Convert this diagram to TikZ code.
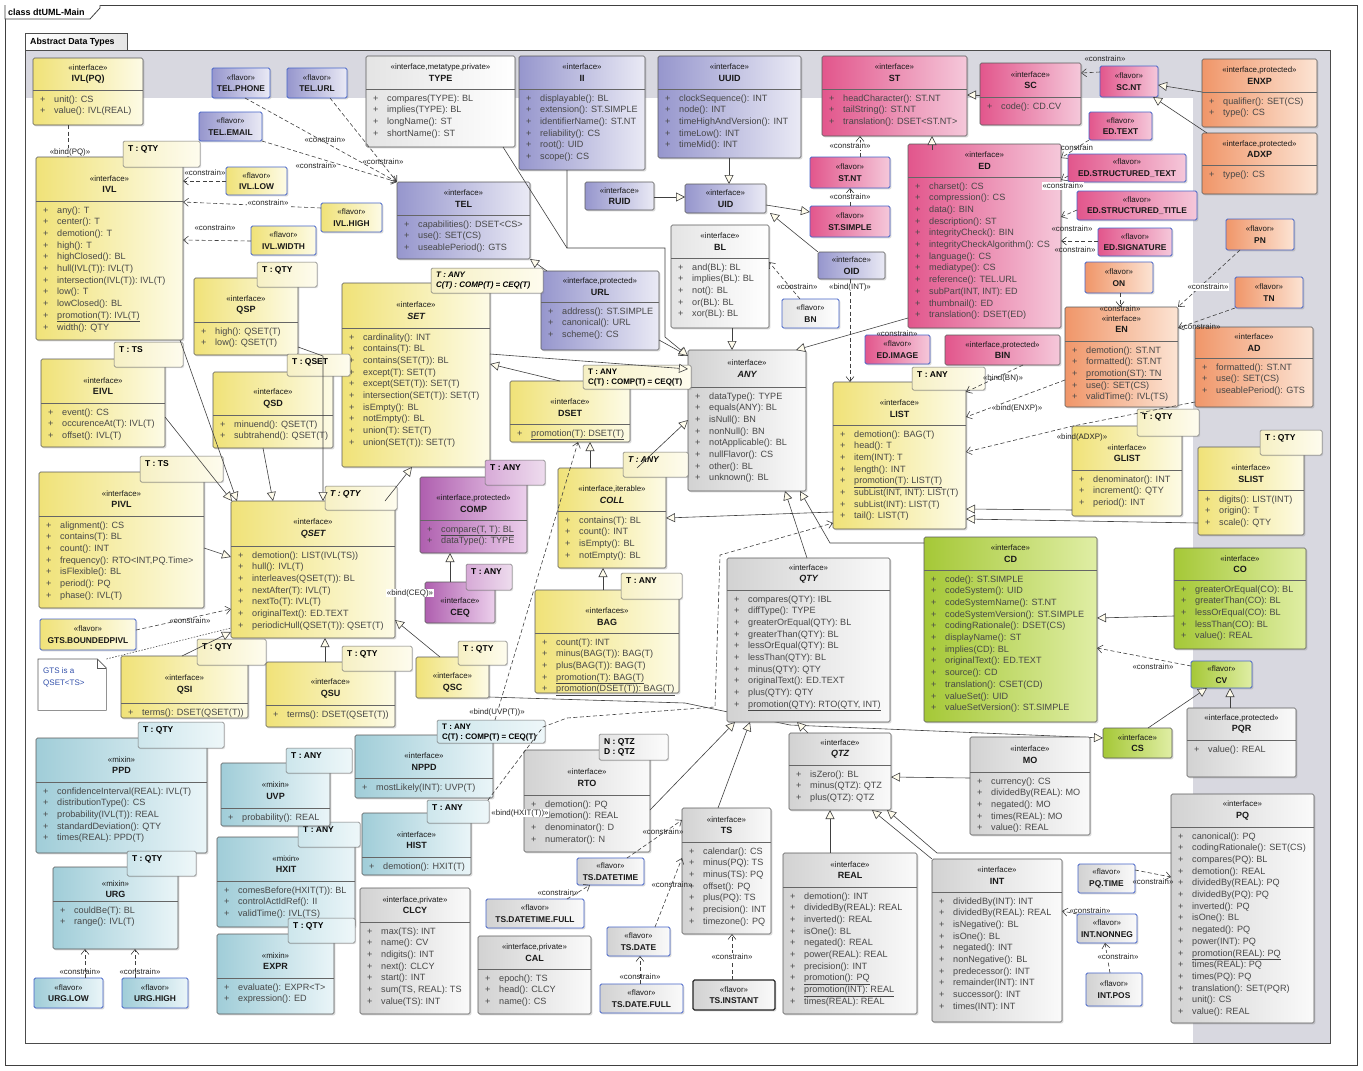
\documentclass[tikz,border=0pt]{standalone}
\usepackage{fontspec}
\setmainfont{Liberation Sans}
\usetikzlibrary{arrows.meta,shadows,calc}

\definecolor{yelA}{RGB}{240,226,120}\definecolor{yelB}{RGB}{253,251,230}
\definecolor{purA}{RGB}{150,150,205}\definecolor{purB}{RGB}{234,234,245}
\definecolor{pnkA}{RGB}{226,86,140}\definecolor{pnkB}{RGB}{245,200,218}
\definecolor{ornA}{RGB}{240,150,105}\definecolor{ornB}{RGB}{252,228,212}
\definecolor{grnA}{RGB}{165,200,55}\definecolor{grnB}{RGB}{224,238,165}
\definecolor{gryA}{RGB}{210,210,210}\definecolor{gryB}{RGB}{250,250,250}
\definecolor{cynA}{RGB}{160,205,216}\definecolor{cynB}{RGB}{234,245,248}
\definecolor{magA}{RGB}{175,95,175}\definecolor{magB}{RGB}{236,208,236}
\definecolor{whtA}{RGB}{228,228,228}\definecolor{whtB}{RGB}{255,255,255}
\definecolor{tyA}{RGB}{246,240,196}\definecolor{tyB}{RGB}{254,252,238}
\definecolor{tmA}{RGB}{215,170,215}\definecolor{tmB}{RGB}{238,220,238}
\definecolor{tcA}{RGB}{205,230,236}\definecolor{tcB}{RGB}{238,247,249}
\definecolor{tgA}{RGB}{226,226,226}\definecolor{tgB}{RGB}{252,252,252}
\definecolor{band}{RGB}{216,216,224}
\definecolor{flvB}{RGB}{70,100,200}
\definecolor{tri}{RGB}{255,252,236}
\definecolor{notec}{RGB}{50,80,170}

\tikzset{
  clsbox/.style={draw=black!65,line width=0.6pt,rounded corners=1.5pt,inner sep=0pt,outer sep=0pt,
    drop shadow={shadow xshift=1.4pt,shadow yshift=-1.4pt,opacity=0.25,fill=black!60}},
  flvbox/.style={clsbox,draw=flvB,line width=0.8pt},
  tplbox/.style={draw=black!55,line width=0.5pt,rounded corners=1.5pt,inner sep=0pt,outer sep=0pt,
    drop shadow={shadow xshift=1.2pt,shadow yshift=-1.2pt,opacity=0.2,fill=black!60}},
  yel/.style={left color=yelA,right color=yelB},
  pur/.style={left color=purA,right color=purB},
  pnk/.style={left color=pnkA,right color=pnkB},
  orn/.style={left color=ornA,right color=ornB},
  grn/.style={left color=grnA,right color=grnB},
  gry/.style={left color=gryA,right color=gryB},
  cyn/.style={left color=cynA,right color=cynB},
  mag/.style={left color=magA,right color=magB},
  wht/.style={left color=whtA,right color=whtB},
  tyel/.style={left color=tyA,right color=tyB},
  tmag/.style={left color=tmA,right color=tmB},
  tcyn/.style={left color=tcA,right color=tcB},
  tgry/.style={left color=tgA,right color=tgB},
  hdr/.style={align=center,inner sep=0pt,text=black!90,font=\fontsize{9}{11.5}\selectfont},
  attrn/.style={inner sep=0pt,text=black!72,font=\fontsize{9.1}{11.7}\selectfont},
  tpltext/.style={inner sep=0pt,align=left,text=black,font=\fontsize{8.5}{10.5}\selectfont\bfseries},
  sepl/.style={draw=black!60,line width=0.5pt},
  gen/.style={draw=black!75,line width=0.6pt,-{Triangle[length=9pt,width=9pt,fill=tri]}},
  dep/.style={draw=black!75,line width=0.6pt,dash pattern=on 4pt off 2.5pt,-{Straight Barb[length=5pt,width=8pt]}},
  lbl/.style={inner sep=0.8pt,font=\fontsize{7.9}{9}\selectfont,text=black!85},
  lblw/.style={lbl,fill=white},
}

\newcommand\stf{\fontsize{7.9}{11}\selectfont\mdseries}
\newcommand\nmf{\fontsize{9}{11}\selectfont\bfseries}
\newcommand\fnf{\fontsize{8.4}{11}\selectfont\bfseries}
\newcommand\attr[1]{\hbox{\makebox[14pt][l]{+}#1}}
\newcommand\uattr[1]{\hbox{\makebox[14pt][l]{+}\underline{#1}}}
\newcommand\hdy{0}
\newcommand\cls[9]{%
  \node[clsbox,#7,minimum width={#4-#2},minimum height={#5-#3},anchor=north west] (#1) at (#2,#3) {};%
  \node[hdr] (#1-h) at ({(#2+#4)/2},{(#3+#6)/2+\hdy}) {{\stf #8}\\{\nmf #9}};%
  \draw[sepl] (#1.west|-0,#6) -- (#1.east|-0,#6);%
  \gdef\hdy{0}}
\newcommand\clst{\gdef\hdy{5}\cls}
\newcommand\clsh[8]{%
  \node[clsbox,#6,minimum width={#4-#2},minimum height={#5-#3},anchor=north west] (#1) at (#2,#3) {};%
  \node[hdr] (#1-h) at ({(#2+#4)/2},{(#3+#5)/2+\hdy}) {{\stf #7}\\{\nmf #8}};%
  \gdef\hdy{0}}
\newcommand\clsht{\gdef\hdy{5}\clsh}
\newcommand\attrs[4]{\node[attrn,anchor=base west] (#1-a) at ({#2+7},{#3+12}) {\vtop{\baselineskip=11.7pt\lineskiplimit=-20pt\lineskip=0pt#4}};}
\newcommand\tpl[8]{%
  \node[tplbox,#6,minimum width={#4-#2},minimum height={#5-#3},anchor=north west] (#1) at (#2,#3) {};%
  \node[tpltext,#7,anchor=north west] (#1-t) at ({#2+5},{#3+4}) {#8};}
\newcommand\flv[7]{%
  \node[flvbox,#6,minimum width={#4-#2},minimum height={#5-#3},anchor=north west] (#1) at (#2,#3) {};%
  \node[hdr] (#1-h) at ({(#2+#4)/2},{(#3+#5)/2}) {{\stf «flavor»}\\{\fnf #7}};}

\begin{document}
\begin{tikzpicture}[x=1pt,y=-1pt]
\useasboundingbox (0,0) rectangle (1363,1071);
\fill[white] (0,0) rectangle (1363,1071);
% outer frame
\node[draw=black!75,line width=0.8pt,minimum width=1352,minimum height=1060,anchor=north west,inner sep=0pt] (frame) at (5,5) {};
\draw[black!75,line width=0.8pt,fill=white] (5,5) -- (5,19) -- (90,19) -- (100,8) -- (100,5);
\node[anchor=west,inner sep=0pt,font=\fontsize{9}{10}\selectfont\bfseries] (title) at (8,12) {class dtUML-Main};
% package
\fill[band] (25,50) rectangle (1330,1043);
\fill[white] (25,98) rectangle (1193,1043);
\node[draw=black!70,line width=0.6pt,minimum width=1305,minimum height=993,anchor=north west,inner sep=0pt] (pkg) at (25,50) {};
\node[draw=black!70,line width=0.6pt,left color=white,right color=black!10,minimum width=102,minimum height=17,anchor=north west,inner sep=0pt] (pkgtab) at (25,33) {};
\node[anchor=west,inner sep=0pt,font=\fontsize{8.8}{10}\selectfont\bfseries] (pkgname) at (30,42) {Abstract Data Types};

% bend points of the long connector that runs behind QTY
\coordinate (qa) at (685,703);
\coordinate (qb) at (790,725);

% ---------------- classes ----------------
\cls{IVLPQ}{33}{58}{143}{125}{90}{yel}{«interface»}{IVL(PQ)}
\attrs{IVLPQ}{33}{90}{\attr{unit(): CS}\attr{value(): IVL(REAL)}}

\clst{IVL}{36}{157}{183}{340}{201}{yel}{«interface»}{IVL}
\attrs{IVL}{36}{201}{\attr{any(): T}\attr{center(): T}\attr{demotion(): T}\attr{high(): T}\attr{highClosed(): BL}\attr{hull(IVL(T)): IVL(T)}\attr{intersection(IVL(T)): IVL(T)}\attr{low(): T}\attr{lowClosed(): BL}\uattr{promotion(T): IVL(T)}\attr{width(): QTY}}
\tpl{tIVL}{123}{141}{200}{167}{tyel}{}{T : QTY}

\cls{TYPE}{366}{56}{515}{147}{89}{wht}{«interface,metatype,private»}{TYPE}
\attrs{TYPE}{366}{89}{\attr{compares(TYPE): BL}\attr{implies(TYPE): BL}\attr{longName(): ST}\attr{shortName(): ST}}

\cls{II}{519}{56}{645}{170}{89}{pur}{«interface»}{II}
\attrs{II}{519}{89}{\attr{displayable(): BL}\attr{extension(): ST.SIMPLE}\attr{identifierName(): ST.NT}\attr{reliability(): CS}\attr{root(): UID}\attr{scope(): CS}}

\cls{UUID}{658}{56}{801}{158}{89}{pur}{«interface»}{UUID}
\attrs{UUID}{658}{89}{\attr{clockSequence(): INT}\attr{node(): INT}\attr{timeHighAndVersion(): INT}\attr{timeLow(): INT}\attr{timeMid(): INT}}

\cls{ST}{822}{56}{967}{136}{89}{pnk}{«interface»}{ST}
\attrs{ST}{822}{89}{\attr{headCharacter(): ST.NT}\attr{tailString(): ST.NT}\attr{translation(): DSET<ST.NT>}}

\cls{SC}{980}{63}{1081}{125}{97}{pnk}{«interface»}{SC}
\attrs{SC}{980}{97}{\attr{code(): CD.CV}}

\cls{ENXP}{1202}{59}{1317}{127}{92}{orn}{«interface,protected»}{ENXP}
\attrs{ENXP}{1202}{92}{\attr{qualifier(): SET(CS)}\attr{type(): CS}}

\cls{ADXP}{1202}{133}{1317}{194}{165}{orn}{«interface,protected»}{ADXP}
\attrs{ADXP}{1202}{165}{\attr{type(): CS}}

\cls{TEL}{397}{182}{530}{259}{215}{pur}{«interface»}{TEL}
\attrs{TEL}{397}{215}{\attr{capabilities(): DSET<CS>}\attr{use(): SET(CS)}\attr{useablePeriod(): GTS}}

\clsh{RUID}{585}{182}{654}{210}{pur}{«interface»}{RUID}
\clsh{UID}{685}{184}{766}{213}{pur}{«interface»}{UID}

\cls{BL}{671}{225}{769}{328}{258}{wht}{«interface»}{BL}
\attrs{BL}{671}{258}{\attr{and(BL): BL}\attr{implies(BL): BL}\attr{not(): BL}\attr{or(BL): BL}\attr{xor(BL): BL}}

\clsh{OID}{818}{252}{885}{279}{pur}{«interface»}{OID}

\cls{ED}{908}{144}{1061}{328}{177}{pnk}{«interface»}{ED}
\attrs{ED}{908}{177}{\attr{charset(): CS}\attr{compression(): CS}\attr{data(): BIN}\attr{description(): ST}\attr{integrityCheck(): BIN}\attr{integrityCheckAlgorithm(): CS}\attr{language(): CS}\attr{mediatype(): CS}\attr{reference(): TEL.URL}\attr{subPart(INT, INT): ED}\attr{thumbnail(): ED}\attr{translation(): DSET(ED)}}

\cls{URL}{541}{271}{659}{350}{302}{pur}{«interface,protected»}{URL}
\attrs{URL}{541}{302}{\attr{address(): ST.SIMPLE}\attr{canonical(): URL}\attr{scheme(): CS}}

\clst{QSP}{194}{278}{298}{355}{322}{yel}{«interface»}{QSP}
\attrs{QSP}{194}{322}{\attr{high(): QSET(T)}\attr{low(): QSET(T)}}
\tpl{tQSP}{257}{262}{317}{287}{tyel}{}{T : QTY}

\clst{SET}{342}{283}{490}{467}{328}{yel}{«interface»}{\itshape SET}
\attrs{SET}{342}{328}{\attr{cardinality(): INT}\attr{contains(T): BL}\attr{contains(SET(T)): BL}\attr{except(T): SET(T)}\attr{except(SET(T)): SET(T)}\attr{intersection(SET(T)): SET(T)}\attr{isEmpty(): BL}\attr{notEmpty(): BL}\attr{union(T): SET(T)}\attr{union(SET(T)): SET(T)}}
\tpl{tSET}{431}{268}{543}{293}{tyel}{font=\fontsize{8}{10}\selectfont\bfseries\itshape}{T : ANY\\C(T) : COMP(T) = CEQ(T)}

\cls{ANY}{688}{350}{806}{491}{387}{gry}{«interface»}{\itshape ANY}
\attrs{ANY}{688}{387}{\attr{dataType(): TYPE}\attr{equals(ANY): BL}\attr{isNull(): BN}\attr{nonNull(): BN}\attr{notApplicable(): BL}\attr{nullFlavor(): CS}\attr{other(): BL}\attr{unknown(): BL}}

\cls{EN}{1065}{307}{1178}{407}{341}{orn}{«interface»}{EN}
\attrs{EN}{1065}{341}{\attr{demotion(): ST.NT}\attr{formatted(): ST.NT}\uattr{promotion(ST): TN}\attr{use(): SET(CS)}\attr{validTime(): IVL(TS)}}

\cls{AD}{1195}{327}{1313}{407}{358}{orn}{«interface»}{AD}
\attrs{AD}{1195}{358}{\attr{formatted(): ST.NT}\attr{use(): SET(CS)}\attr{useablePeriod(): GTS}}

\clsh{BIN}{945}{335}{1060}{365}{pnk}{«interface,protected»}{BIN}

\clst{LIST}{833}{382}{966}{529}{425}{yel}{«interface»}{LIST}
\attrs{LIST}{833}{425}{\attr{demotion(): BAG(T)}\attr{head(): T}\attr{item(INT): T}\attr{length(): INT}\uattr{promotion(T): LIST(T)}\attr{subList(INT, INT): LIST(T)}\attr{subList(INT): LIST(T)}\attr{tail(): LIST(T)}}
\tpl{tLIST}{912}{367}{985}{390}{tyel}{}{T : ANY}

\clst{EIVL}{41}{359}{165}{447}{403}{yel}{«interface»}{EIVL}
\attrs{EIVL}{41}{403}{\attr{event(): CS}\attr{occurenceAt(T): IVL(T)}\attr{offset(): IVL(T)}}
\tpl{tEIVL}{114}{342}{183}{367}{tyel}{}{T : TS}

\clst{QSD}{213}{372}{333}{448}{415}{yel}{«interface»}{QSD}
\attrs{QSD}{213}{415}{\attr{minuend(): QSET(T)}\attr{subtrahend(): QSET(T)}}
\tpl{tQSD}{287}{354}{350}{376}{tyel}{}{T : QSET}

\clst{DSET}{510}{381}{630}{442}{424}{yel}{«interface»}{DSET}
\attrs{DSET}{510}{424}{\uattr{promotion(T): DSET(T)}}
\tpl{tDSET}{583}{365}{691}{389}{tyel}{font=\fontsize{8}{10}\selectfont\bfseries}{T : ANY\\C(T) : COMP(T) = CEQ(T)}

\clst{GLIST}{1072}{426}{1182}{516}{470}{yel}{«interface»}{GLIST}
\attrs{GLIST}{1072}{470}{\attr{denominator(): INT}\attr{increment(): QTY}\attr{period(): INT}}
\tpl{tGLIST}{1137}{409}{1199}{436}{tyel}{}{T : QTY}

\clst{SLIST}{1198}{447}{1304}{535}{490}{yel}{«interface»}{SLIST}
\attrs{SLIST}{1198}{490}{\attr{digits(): LIST(INT)}\attr{origin(): T}\attr{scale(): QTY}}
\tpl{tSLIST}{1260}{430}{1322}{455}{tyel}{}{T : QTY}

\clst{COLL}{558}{468}{666}{568}{511}{yel}{«interface,iterable»}{\itshape COLL}
\attrs{COLL}{558}{511}{\attr{contains(T): BL}\attr{count(): INT}\attr{isEmpty(): BL}\attr{notEmpty(): BL}}
\tpl{tCOLL}{623}{452}{688}{477}{tyel}{font=\fontsize{8.5}{10.5}\selectfont\bfseries\itshape}{T : ANY}

\clst{COMP}{420}{477}{527}{553}{520}{mag}{«interface,protected»}{COMP}
\attrs{COMP}{420}{520}{\uattr{compare(T, T): BL}\attr{dataType(): TYPE}}
\tpl{tCOMP}{485}{460}{545}{485}{tmag}{}{T : ANY}

\clst{PIVL}{39}{472}{204}{608}{516}{yel}{«interface»}{PIVL}
\attrs{PIVL}{39}{516}{\attr{alignment(): CS}\attr{contains(T): BL}\attr{count(): INT}\attr{frequency(): RTO<INT,PQ.Time>}\attr{isFlexible(): BL}\attr{period(): PQ}\attr{phase(): IVL(T)}}
\tpl{tPIVL}{140}{456}{223}{482}{tyel}{}{T : TS}

\clst{QSET}{231}{501}{395}{638}{546}{yel}{«interface»}{\itshape QSET}
\attrs{QSET}{231}{546}{\attr{demotion(): LIST(IVL(TS))}\attr{hull(): IVL(T)}\attr{interleaves(QSET(T)): BL}\attr{nextAfter(T): IVL(T)}\attr{nextTo(T): IVL(T)}\attr{originalText(): ED.TEXT}\attr{periodicHull(QSET(T)): QSET(T)}}
\tpl{tQSET}{325}{486}{397}{510}{tyel}{font=\fontsize{8.5}{10.5}\selectfont\bfseries\itshape}{T : QTY}

\cls{CD}{924}{537}{1097}{722}{570}{grn}{«interface»}{CD}
\attrs{CD}{924}{570}{\attr{code(): ST.SIMPLE}\attr{codeSystem(): UID}\attr{codeSystemName(): ST.NT}\attr{codeSystemVersion(): ST.SIMPLE}\attr{codingRationale(): DSET(CS)}\attr{displayName(): ST}\attr{implies(CD): BL}\attr{originalText(): ED.TEXT}\attr{source(): CD}\attr{translation(): CSET(CD)}\attr{valueSet(): UID}\attr{valueSetVersion(): ST.SIMPLE}}

\cls{CO}{1174}{548}{1306}{649}{580}{grn}{«interface»}{CO}
\attrs{CO}{1174}{580}{\attr{greaterOrEqual(CO): BL}\attr{greaterThan(CO): BL}\attr{lessOrEqual(CO): BL}\attr{lessThan(CO): BL}\attr{value(): REAL}}

% long line running behind QTY
\draw[gen] (QSET.east|-0,697) ++(94,0) -- (qa) -- (qb) -- (1103,738);

\cls{QTY}{727}{558}{890}{722}{590}{gry}{«interface»}{\itshape QTY}
\attrs{QTY}{727}{590}{\attr{compares(QTY): IBL}\attr{diffType(): TYPE}\attr{greaterOrEqual(QTY): BL}\attr{greaterThan(QTY): BL}\attr{lessOrEqual(QTY): BL}\attr{lessThan(QTY): BL}\attr{minus(QTY): QTY}\attr{originalText(): ED.TEXT}\attr{plus(QTY): QTY}\uattr{promotion(QTY): RTO(QTY, INT)}}

\clsht{CEQ}{425}{582}{495}{623}{mag}{«interface»}{CEQ}
\tpl{tCEQ}{466}{564}{512}{590}{tmag}{}{T : ANY}

\clst{BAG}{535}{590}{679}{693}{633}{yel}{«interfaces»}{BAG}
\attrs{BAG}{535}{633}{\attr{count(T): INT}\attr{minus(BAG(T)): BAG(T)}\attr{plus(BAG(T)): BAG(T)}\uattr{promotion(T): BAG(T)}\uattr{promotion(DSET(T)): BAG(T)}}
\tpl{tBAG}{621}{573}{682}{599}{tyel}{}{T : ANY}

\clst{QSI}{121}{656}{248}{718}{703}{yel}{«interface»}{QSI}
\attrs{QSI}{121}{703}{\attr{terms(): DSET(QSET(T))}}
\tpl{tQSI}{197}{639}{266}{665}{tyel}{}{T : QTY}

\clst{QSU}{266}{662}{395}{727}{705}{yel}{«interface»}{QSU}
\attrs{QSU}{266}{705}{\attr{terms(): DSET(QSET(T))}}
\tpl{tQSU}{342}{646}{412}{671}{tyel}{}{T : QTY}

\clsht{QSC}{416}{657}{489}{698}{yel}{«interface»}{QSC}
\tpl{tQSC}{458}{641}{507}{665}{tyel}{}{T : QTY}

\cls{PQR}{1187}{708}{1296}{777}{740}{gry}{«interface,protected»}{PQR}
\attrs{PQR}{1187}{740}{\attr{value(): REAL}}

\clsh{CS}{1103}{728}{1172}{758}{grn}{«interface»}{CS}

\cls{QTZ}{789}{733}{891}{810}{765}{gry}{«interface»}{\itshape QTZ}
\attrs{QTZ}{789}{765}{\attr{isZero(): BL}\attr{minus(QTZ): QTZ}\attr{plus(QTZ): QTZ}}

\cls{MO}{970}{737}{1090}{835}{772}{gry}{«interface»}{MO}
\attrs{MO}{970}{772}{\attr{currency(): CS}\attr{dividedBy(REAL): MO}\attr{negated(): MO}\attr{times(REAL): MO}\attr{value(): REAL}}

\clst{PPD}{36}{738}{207}{853}{782}{cyn}{«mixin»}{PPD}
\attrs{PPD}{36}{782}{\attr{confidenceInterval(REAL): IVL(T)}\attr{distributionType(): CS}\attr{probability(IVL(T)): REAL}\attr{standardDeviation(): QTY}\attr{times(REAL): PPD(T)}}
\tpl{tPPD}{138}{722}{224}{748}{tcyn}{}{T : QTY}

\clst{NPPD}{355}{735}{493}{798}{778}{cyn}{«interface»}{NPPD}
\attrs{NPPD}{355}{778}{\attr{mostLikely(INT): UVP(T)}}
\tpl{tNPPD}{437}{720}{545}{743}{tcyn}{font=\fontsize{8}{10}\selectfont\bfseries}{T : ANY\\C(T) : COMP(T) = CEQ(T)}

\clst{RTO}{524}{750}{650}{852}{795}{gry}{«interface»}{RTO}
\attrs{RTO}{524}{795}{\attr{demotion(): PQ}\attr{demotion(): REAL}\attr{denominator(): D}\attr{numerator(): N}}
\tpl{tRTO}{599}{734}{668}{760}{tgry}{}{N : QTZ\\D : QTZ}

\clst{HXIT}{217}{837}{355}{927}{881}{cyn}{«mixin»}{HXIT}
\attrs{HXIT}{217}{881}{\attr{comesBefore(HXIT(T)): BL}\attr{controlActIdRef(): II}\attr{validTime(): IVL(TS)}}
\tpl{tHXIT}{298}{822}{360}{847}{tcyn}{}{T : ANY}

\clst{UVP}{221}{763}{330}{826}{808}{cyn}{«mixin»}{UVP}
\attrs{UVP}{221}{808}{\attr{probability(): REAL}}
\tpl{tUVP}{286}{748}{352}{773}{tcyn}{}{T : ANY}

\clst{HIST}{362}{813}{471}{875}{857}{cyn}{«interface»}{HIST}
\attrs{HIST}{362}{857}{\attr{demotion(): HXIT(T)}}
\tpl{tHIST}{427}{800}{489}{823}{tcyn}{}{T : ANY}

\clst{EXPR}{217}{934}{334}{1014}{978}{cyn}{«mixin»}{EXPR}
\attrs{EXPR}{217}{978}{\attr{evaluate(): EXPR<T>}\attr{expression(): ED}}
\tpl{tEXPR}{288}{918}{355}{943}{tcyn}{}{T : QTY}

\cls{PQ}{1171}{794}{1314}{1023}{827}{gry}{«interface»}{PQ}
\attrs{PQ}{1171}{827}{\attr{canonical(): PQ}\attr{codingRationale(): SET(CS)}\attr{compares(PQ): BL}\attr{demotion(): REAL}\attr{dividedBy(REAL): PQ}\attr{dividedBy(PQ): PQ}\attr{inverted(): PQ}\attr{isOne(): BL}\attr{negated(): PQ}\attr{power(INT): PQ}\uattr{promotion(REAL): PQ}\attr{times(REAL): PQ}\attr{times(PQ): PQ}\attr{translation(): SET(PQR)}\attr{unit(): CS}\attr{value(): REAL}}

\cls{TS}{682}{808}{771}{934}{842}{gry}{«interface»}{TS}
\attrs{TS}{682}{842}{\attr{calendar(): CS}\attr{minus(PQ): TS}\attr{minus(TS): PQ}\attr{offset(): PQ}\attr{plus(PQ): TS}\attr{precision(): INT}\attr{timezone(): PQ}}

\cls{REAL}{783}{853}{917}{1014}{887}{gry}{«interface»}{REAL}
\attrs{REAL}{783}{887}{\attr{demotion(): INT}\attr{dividedBy(REAL): REAL}\attr{inverted(): REAL}\attr{isOne(): BL}\attr{negated(): REAL}\attr{power(REAL): REAL}\attr{precision(): INT}\uattr{promotion(): PQ}\uattr{promotion(INT): REAL}\attr{times(REAL): REAL}}

\cls{INT}{932}{859}{1062}{1022}{892}{gry}{«interface»}{INT}
\attrs{INT}{932}{892}{\attr{dividedBy(INT): INT}\attr{dividedBy(REAL): REAL}\attr{isNegative(): BL}\attr{isOne(): BL}\attr{negated(): INT}\attr{nonNegative(): BL}\attr{predecessor(): INT}\attr{remainder(INT): INT}\attr{successor(): INT}\attr{times(INT): INT}}

\clst{URG}{53}{867}{178}{949}{901}{cyn}{«mixin»}{URG}
\attrs{URG}{53}{901}{\attr{couldBe(T): BL}\attr{range(): IVL(T)}}
\tpl{tURG}{127}{851}{196}{876}{tcyn}{}{T : QTY}

\cls{CLCY}{360}{888}{470}{1014}{922}{gry}{«interface,private»}{CLCY}
\attrs{CLCY}{360}{922}{\attr{max(TS): INT}\attr{name(): CV}\attr{ndigits(): INT}\attr{next(): CLCY}\attr{start(): INT}\attr{sum(TS, REAL): TS}\attr{value(TS): INT}}

\cls{CAL}{478}{936}{591}{1014}{969}{gry}{«interface,private»}{CAL}
\attrs{CAL}{478}{969}{\attr{epoch(): TS}\attr{head(): CLCY}\attr{name(): CS}}

% ---------------- flavors ----------------
\flv{TELPHONE}{212}{68}{270}{98}{pur}{TEL.PHONE}
\flv{TELURL}{287}{68}{347}{98}{pur}{TEL.URL}
\flv{TELEMAIL}{199}{112}{262}{141}{pur}{TEL.EMAIL}
\flv{IVLLOW}{226}{167}{287}{195}{yel}{IVL.LOW}
\flv{IVLHIGH}{321}{203}{382}{232}{yel}{IVL.HIGH}
\flv{IVLWIDTH}{251}{226}{316}{255}{yel}{IVL.WIDTH}
\flv{STNT}{810}{157}{890}{188}{pnk}{ST.NT}
\flv{STSIMPLE}{810}{206}{890}{237}{pnk}{ST.SIMPLE}
\flv{SCNT}{1100}{66}{1158}{97}{pnk}{SC.NT}
\flv{EDTEXT}{1089}{112}{1152}{140}{pnk}{ED.TEXT}
\flv{EDSTEXT}{1068}{154}{1186}{182}{pnk}{ED.STRUCTURED\_TEXT}
\flv{EDSTITLE}{1077}{191}{1197}{220}{pnk}{ED.STRUCTURED\_TITLE}
\flv{EDSIG}{1098}{228}{1172}{256}{pnk}{ED.SIGNATURE}
\flv{EDIMAGE}{865}{335}{930}{364}{pnk}{ED.IMAGE}
\flv{BN}{782}{299}{839}{328}{wht}{BN}
\flv{PN}{1226}{219}{1294}{250}{orn}{PN}
\flv{ON}{1085}{262}{1153}{293}{orn}{ON}
\flv{TN}{1235}{277}{1303}{308}{orn}{TN}
\flv{GTSB}{40}{619}{136}{650}{yel}{GTS.BOUNDEDPIVL}
\flv{CV}{1191}{661}{1252}{688}{grn}{CV}
\flv{TSDT}{577}{858}{644}{885}{gry}{TS.DATETIME}
\flv{TSDTF}{486}{899}{584}{928}{gry}{TS.DATETIME.FULL}
\flv{TSDATE}{607}{927}{670}{956}{gry}{TS.DATE}
\flv{TSDATEF}{600}{984}{683}{1013}{gry}{TS.DATE.FULL}
\flv{TSINST}{693}{980}{775}{1010}{gry,draw=black!85,line width=1.1pt}{TS.INSTANT}
\flv{PQTIME}{1078}{864}{1135}{893}{gry}{PQ.TIME}
\flv{INTNN}{1077}{914}{1137}{943}{gry}{INT.NONNEG}
\flv{INTPOS}{1086}{973}{1142}{1006}{gry}{INT.POS}
\flv{URGLOW}{34}{978}{103}{1008}{cyn}{URG.LOW}
\flv{URGHIGH}{122}{978}{188}{1008}{cyn}{URG.HIGH}

% note
\node[minimum width=68,minimum height=51,anchor=north west,inner sep=0pt] (note) at (38,659) {};
\draw[black!65,line width=0.6pt,fill=white] (note.north west) -- ([xshift=-9pt]note.north east) -- ([yshift=-9pt]note.north east) -- (note.south east) -- (note.south west) -- cycle;
\draw[black!65,line width=0.6pt] ([xshift=-9pt]note.north east) -- ([xshift=-9pt,yshift=-9pt]note.north east) -- ([yshift=-9pt]note.north east);
\node[anchor=north west,align=left,inner sep=0pt,text=notec,font=\fontsize{8}{12}\selectfont] (note-t) at (43,667) {GTS is a\\QSET<TS>};

% ---------------- generalizations ----------------
\draw[gen] (547,0|-URL.north) -- (TEL.south east);
\draw[gen] (URL.east|-0,340) -- (ANY.west|-0,356);
\draw[black!75,line width=0.6pt] (503,0|-TYPE.south) -- (567,248);
\draw[gen] (567,0|-II.south) -- (567,248) -- (665,248) -- (665,337) -- (ANY.west|-0,356);
\draw[gen] (SET.east|-0,354) -- (ANY.west|-0,369);
\draw[gen] (560,0|-DSET.north) -- (SET.east|-0,364);
\draw[gen] (637,0|-COLL.north) -- (ANY.west|-0,420);
\draw[gen] (590,0|-COLL.north) -- (590,0|-DSET.south);
\draw[gen] (603,0|-BAG.north) -- (603,0|-COLL.south);
\draw[gen] (LIST.west|-0,512) -- (COLL.east|-0,518);
\draw[gen] (807,0|-QTY.north) -- (785,0|-ANY.south);
\draw[gen] (CD.west|-0,543) -- (830,543) -- (800,0|-ANY.south);
\draw[gen] (GLIST.west|-0,510) -- (LIST.east|-0,509);
\draw[gen] (SLIST.west|-0,523) -- (LIST.east|-0,519);
\draw[gen] (CO.west|-0,616) -- (CD.east|-0,618);
\draw[gen] (1148,0|-CS.north) -- (1207,0|-CV.south);
\draw[gen] (1230,0|-PQR.north) -- (1230,0|-CV.south);
\draw[gen] (MO.west|-0,778) -- (QTZ.east|-0,777);
\draw[gen] (808,0|-QTZ.north) -- (797,0|-QTY.south);
\draw[gen] (718,0|-TS.north) -- (750,0|-QTY.south);
\draw[gen] (RTO.east|-0,810) -- (735,0|-QTY.south);
\draw[gen] (830,0|-REAL.north) -- (830,0|-QTZ.south);
\draw[gen] (INT.north west) -- (872,0|-QTZ.south);
\draw[gen] (PQ.west|-0,853) -- (937,853) -- (887,0|-QTZ.south);
\draw[gen] (180,0|-IVL.south) -- (237,0|-QSET.north);
\draw[gen] (EIVL.east|-0,417) -- (232,0|-QSET.north);
\draw[gen] (263,0|-QSD.south) -- (273,0|-QSET.north);
\draw[gen] (QSP.east|-0,347) -- (323,356) -- (323,0|-QSET.north);
\draw[gen] (385,0|-QSET.north) -- (412,0|-SET.south);
\draw[gen] (PIVL.east|-0,548) -- (QSET.west|-0,557);
\draw[gen] (182,0|-QSI.north) -- (QSET.west|-0,632);
\draw[gen] (325,0|-QSU.north) -- (325,0|-QSET.south);
\draw[gen] (440,0|-QSC.north) -- (QSET.east|-0,620);
\draw[gen] (450,0|-CEQ.north) -- (450,0|-COMP.south);
\draw[gen] (729,0|-UUID.south) -- (729,0|-UID.north);
\draw[gen] (RUID.east|-0,197) -- (UID.west|-0,197);
\draw[gen] (UID.east|-0,205) -- (STSIMPLE.west|-0,212);
\draw[gen] (OID.north west) -- (770,0|-UID.south);
\draw[gen] (732,0|-BL.south) -- (732,0|-ANY.north);
\draw[gen] ($(932,0|-ED.north)+(0,6)$) -- (932,0|-ST.south);
\draw[gen] (SC.west|-0,95) -- (ST.east|-0,95);
\draw[gen] (ENXP.west|-0,92) -- (SCNT.east|-0,85);
\draw[gen] (1207,0|-ADXP.north) -- (1153,0|-SCNT.south);
\draw[gen] (ED.west|-0,318) -- (796,0|-ANY.north);

% ---------------- dependencies ----------------
\draw[dep] (245,0|-TELPHONE.south) -- (TEL.north west);
\draw[dep] (330,0|-TELURL.south) -- (TEL.north west);
\draw[dep] (TELEMAIL.south east) -- (TEL.north west);
\draw[dep] (68,0|-IVLPQ.south) -- (68,0|-IVL.north);
\draw[dep] (IVLLOW.west|-0,181) -- (IVL.east|-0,181);
\draw[dep] (IVLHIGH.west|-0,208) -- (IVL.east|-0,202);
\draw[dep] (IVLWIDTH.west|-0,241) -- (IVL.east|-0,240);
\draw[dep] (860,0|-STNT.north) -- (860,0|-ST.south);
\draw[dep] (850,0|-STSIMPLE.north) -- (850,0|-STNT.south);
\draw[dep] (SCNT.west|-0,72) -- (SC.east|-0,73);
\draw[dep] (EDTEXT.south west) -- (ED.east|-0,158);
\draw[dep] (EDSTEXT.west|-0,176) -- (ED.east|-0,180);
\draw[dep] (EDSTITLE.west|-0,210) -- (ED.east|-0,217);
\draw[dep] (EDSIG.west|-0,241) -- (ED.east|-0,241);
\draw[dep] (800,0|-BN.north) -- (BL.east|-0,262);
\draw[dep] (850,0|-OID.south) -- (850,0|-LIST.north);
\draw[dep] (1120,0|-ON.south) -- (1120,0|-EN.north);
\draw[dep] (1240,0|-PN.south) -- (EN.north east);
\draw[dep] (TN.south west) -- (EN.east|-0,328);
\draw[dep] (1023,0|-BIN.south) -- (LIST.east|-0,392);
\draw[dep] (EN.west|-0,380) -- (LIST.east|-0,417);
\draw[dep] (AD.west|-0,402) -- (1073,426) -- (LIST.east|-0,452);
\draw[dep] (CV.west|-0,666) -- (CD.east|-0,648);
\draw[dep] (GTSB.east|-0,630) -- (QSET.west|-0,609);
\draw[black!70,line width=0.6pt,dash pattern=on 1.5pt off 1.5pt] (note.north east) -- (QSET.west|-0,628);
\draw[dep] (85,0|-URGLOW.north) -- (85,0|-URG.south);
\draw[dep] (135,0|-URGHIGH.north) -- (135,0|-URG.south);
\draw[dep] (732,0|-TSINST.north) -- (732,0|-TS.south);
\draw[dep] (627,0|-TSDT.north) -- (TS.west|-0,820);
\draw[dep] (567,0|-TSDTF.north) -- (590,0|-TSDT.south);
\draw[dep] (655,0|-TSDATE.north) -- (TS.west|-0,858);
\draw[dep] (640,0|-TSDATEF.north) -- (640,0|-TSDATE.south);
\draw[dep] (PQTIME.east|-0,870) -- (PQ.west|-0,877);
\draw[dep] (INTNN.north west) -- (INT.east|-0,911);
\draw[dep] (1110,0|-INTPOS.north) -- (1105,0|-INTNN.south);
\draw[dep] (CEQ.west|-0,593) -- (QSET.east|-0,593);
\draw[dep] (495,0|-tNPPD.north) -- (578,0|-DSET.south);
\draw[dep] (488,0|-tHIST.north) -- (543,727) -- (567,718) -- (715,707) -- (720,555) -- (LIST.west|-0,523);

% ---------------- labels ----------------
\node[lbl] (l1) at (325,140) {«constrain»};
\node[lbl] (l2) at (316,166) {«constrain»};
\node[lbl] (l3) at (383,162) {«constrain»};
\node[lblw] (l4) at (70,152) {«bind(PQ)»};
\node[lbl] (l5) at (205,173) {«constrain»};
\node[lblw] (l6) at (268,203) {«constrain»};
\node[lbl] (l7) at (215,228) {«constrain»};
\node[lblw] (l8) at (850,146) {«constrain»};
\node[lblw] (l9) at (850,197) {«constrain»};
\node[lbl] (l10) at (1105,59) {«constrain»};
\node[lbl] (l11) at (1077,148) {constrain};
\node[lblw] (l12) at (1063,186) {«constrain»};
\node[lbl] (l13) at (1072,229) {«constrain»};
\node[lbl] (l14) at (1075,250) {«constrain»};
\node[lbl] (l15) at (897,334) {«constrain»};
\node[lbl] (l16) at (797,287) {«constrain»};
\node[lblw] (l17) at (850,287) {«bind(INT)»};
\node[lbl] (l18) at (1120,309) {«constrain»};
\node[lblw] (l19) at (1208,287) {«constrain»};
\node[lbl] (l20) at (1200,327) {«constrain»};
\node[lbl] (l21) at (1003,378) {«bind(BN)»};
\node[lblw] (l22) at (1017,408) {«bind(ENXP)»};
\node[lbl] (l23) at (1082,437) {«bind(ADXP)»};
\node[lbl] (l24) at (1153,667) {«constrain»};
\node[lbl] (l25) at (190,621) {«constrain»};
\node[lbl] (l26) at (80,972) {«constrain»};
\node[lbl] (l27) at (140,972) {«constrain»};
\node[lblw] (l28) at (732,957) {«constrain»};
\node[lbl] (l29) at (663,832) {«constrain»};
\node[lbl] (l30) at (558,893) {«constrain»};
\node[lbl] (l31) at (672,885) {«constrain»};
\node[lbl] (l32) at (640,977) {«constrain»};
\node[lbl] (l33) at (1153,882) {«constrain»};
\node[lbl] (l34) at (1090,911) {«constrain»};
\node[lblw] (l35) at (1118,957) {«constrain»};
\node[lblw] (l36) at (410,593) {«bind(CEQ)»};
\node[lblw] (l37) at (497,712) {«bind(UVP(T))»};
\node[lblw] (l38) at (520,813) {«bind(HXIT(T))»};
\end{tikzpicture}
\end{document}
